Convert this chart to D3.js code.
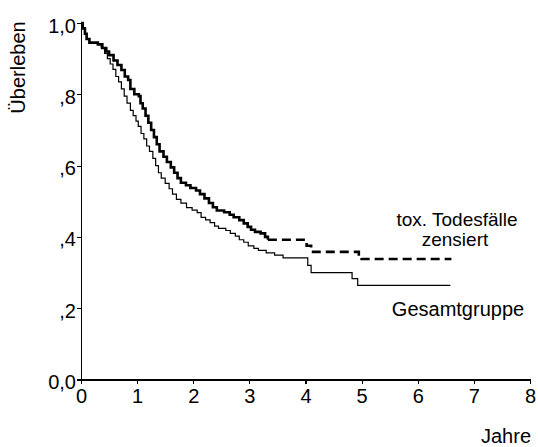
<!DOCTYPE html>
<html>
<head>
<meta charset="utf-8">
<script src="https://cdn.jsdelivr.net/npm/d3@7"></script>
<style>
  html, body { margin: 0; padding: 0; background: #fff; }
  svg { display: block; font-family: "Liberation Sans", Arial, sans-serif; }
  .axis path, .axis line { stroke: #000; stroke-width: 1.2; shape-rendering: crispEdges; }
  .axis text { font-size: 20px; fill: #000; font-family: "Liberation Sans", Arial, sans-serif; }
</style>
</head>
<body>
<script>
// Kaplan-Meier survival, overall group
const timeGesamt = [0, 0.03, 0.07, 0.10, 0.15, 0.30, 0.36, 0.42, 0.47, 0.52, 0.57, 0.62, 0.67, 0.72, 0.77, 0.82, 0.88, 0.93, 0.98, 1.02, 1.07, 1.12, 1.17, 1.22, 1.28, 1.33, 1.38, 1.43, 1.50, 1.57, 1.63, 1.70, 1.78, 1.88, 1.98, 2.07, 2.14, 2.22, 2.30, 2.38, 2.45, 2.58, 2.66, 2.75, 2.82, 2.90, 2.98, 3.08, 3.16, 3.30, 3.45, 3.60, 4.04, 4.10, 4.83, 4.93, 6.58];
const survGesamt = [1.0, 0.985, 0.97, 0.955, 0.945, 0.94, 0.93, 0.915, 0.90, 0.885, 0.87, 0.85, 0.835, 0.815, 0.795, 0.775, 0.755, 0.74, 0.725, 0.71, 0.69, 0.675, 0.655, 0.64, 0.62, 0.60, 0.58, 0.565, 0.55, 0.535, 0.52, 0.505, 0.495, 0.482, 0.475, 0.468, 0.455, 0.448, 0.44, 0.43, 0.424, 0.418, 0.41, 0.402, 0.392, 0.385, 0.375, 0.368, 0.362, 0.355, 0.349, 0.341, 0.32, 0.30, 0.283, 0.264, 0.264];

// Survival with toxic deaths censored
const timeZensiert = [0, 0.03, 0.07, 0.10, 0.15, 0.30, 0.38, 0.45, 0.50, 0.58, 0.65, 0.72, 0.78, 0.84, 0.88, 0.95, 1.03, 1.06, 1.10, 1.15, 1.20, 1.25, 1.30, 1.35, 1.40, 1.47, 1.53, 1.60, 1.66, 1.72, 1.78, 1.87, 1.95, 2.05, 2.12, 2.20, 2.28, 2.35, 2.42, 2.55, 2.65, 2.72, 2.82, 2.90, 2.97, 3.03, 3.10, 3.20, 3.28, 3.33, 4.02, 4.10, 4.95, 5.00, 6.60];
const survZensiert = [1.0, 0.985, 0.97, 0.955, 0.945, 0.94, 0.93, 0.92, 0.91, 0.895, 0.882, 0.868, 0.85, 0.84, 0.815, 0.80, 0.795, 0.775, 0.76, 0.74, 0.72, 0.70, 0.68, 0.66, 0.64, 0.625, 0.61, 0.595, 0.58, 0.565, 0.552, 0.545, 0.537, 0.53, 0.52, 0.508, 0.495, 0.483, 0.474, 0.469, 0.462, 0.455, 0.447, 0.438, 0.428, 0.42, 0.414, 0.41, 0.40, 0.392, 0.375, 0.358, 0.345, 0.338, 0.338];
// beyond this time the censored curve is drawn dashed
const dashFrom = 3.33;

const xTicks = [0, 1, 2, 3, 4, 5, 6, 7, 8];
const yTicks = [0, 0.2, 0.4, 0.6, 0.8, 1.0];
const yTickLabels = ["0,0", ",2", ",4", ",6", ",8", "1,0"];

const W = 538, H = 447;
const svg = d3.select("body").append("svg").attr("width", W).attr("height", H);

const x = d3.scaleLinear().domain([0, 8]).range([81, 530]);
const y = d3.scaleLinear().domain([0, 1]).range([379.5, 23]);

// axes
svg.append("g").attr("class", "axis")
  .attr("transform", `translate(0,${y(0)})`)
  .call(d3.axisBottom(x).tickValues(xTicks).tickFormat(d3.format("d")).tickSizeInner(4).tickSizeOuter(0).tickPadding(5));

svg.append("g").attr("class", "axis")
  .attr("transform", `translate(${x(0)},0)`)
  .call(d3.axisLeft(y).tickValues(yTicks)
    .tickFormat((d, i) => yTickLabels[i]).tickSizeInner(4).tickSizeOuter(0).tickPadding(1))
  .selectAll("text").attr("dy", "0.45em");

// survival step curves
const rows = (ts, ss) => ts.map((t, i) => ({ t, s: ss[i] }));
const step = d3.line().x(d => x(d.t)).y(d => y(d.s)).curve(d3.curveStepAfter);

const gesamt = rows(timeGesamt, survGesamt);
const zens = rows(timeZensiert, survZensiert);

svg.append("path").datum(gesamt)
  .attr("d", step).attr("fill", "none").attr("stroke", "#000").attr("stroke-width", 1.2);

svg.append("path").datum(zens.filter(d => d.t <= dashFrom))
  .attr("d", step).attr("fill", "none").attr("stroke", "#000").attr("stroke-width", 2.6);

svg.append("path").datum(zens.filter(d => d.t >= dashFrom))
  .attr("d", step).attr("fill", "none").attr("stroke", "#000").attr("stroke-width", 2.6)
  .attr("stroke-dasharray", "9,5");

// labels
const txt = (xp, yp, s, anchor, size) => svg.append("text")
  .attr("x", xp).attr("y", yp).attr("text-anchor", anchor)
  .attr("font-size", size).attr("fill", "#000").text(s);

txt(457, 226, "tox. Todesfälle", "middle", 19);
txt(455, 246, "zensiert", "middle", 19);
txt(458, 316, "Gesamtgruppe", "middle", 20);
txt(531, 443, "Jahre", "end", 20);

svg.append("text")
  .attr("transform", "translate(25,67.5) rotate(-90)")
  .attr("text-anchor", "middle").attr("font-size", 20).attr("fill", "#000")
  .text("Überleben");
</script>
</body>
</html>
